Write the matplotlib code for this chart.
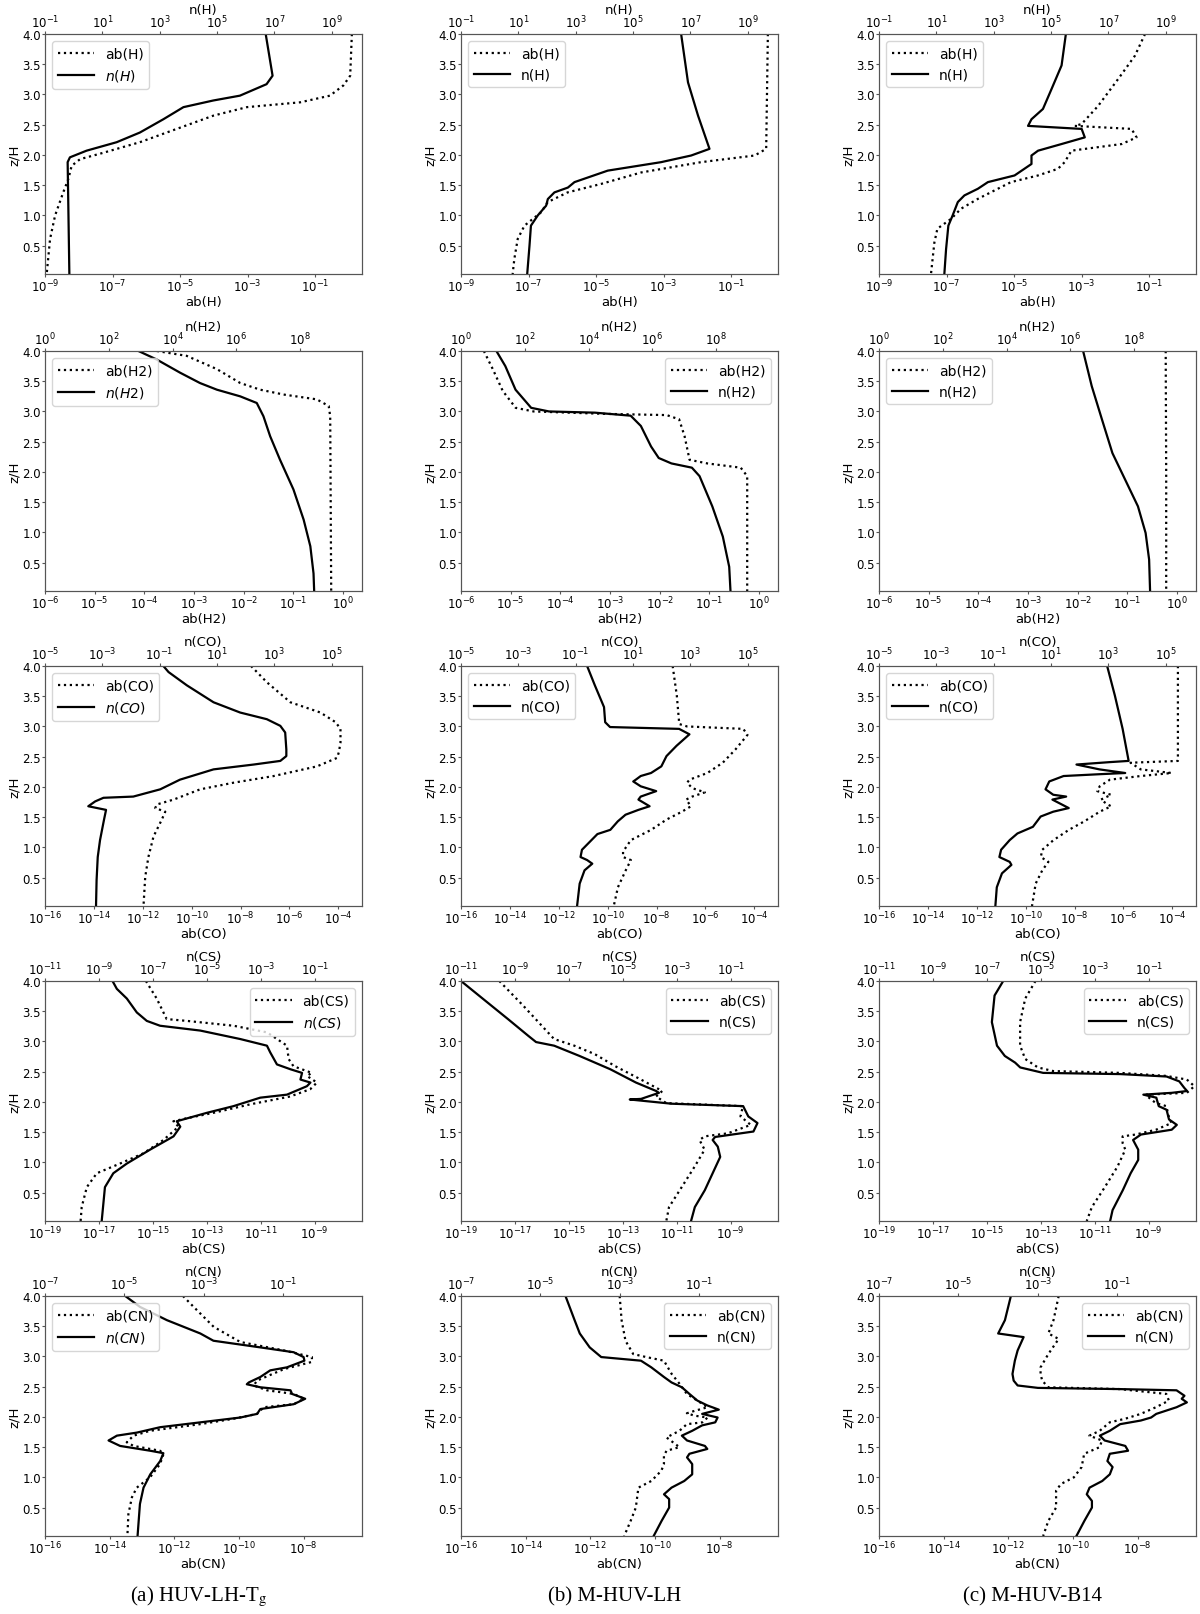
import matplotlib
matplotlib.use("Agg")

import numpy as np
import matplotlib.pyplot as plt
from matplotlib.ticker import FixedLocator, LogFormatterSciNotation, NullLocator

# ── Data: z/H heights and log10 values ────────────────────────────────────────
# suffix _a = HUV-LH-Tg, _b = M-HUV-LH, _c = M-HUV-B14

# H
z_ab_H_a = [4.0, 3.31, 3.15, 2.98, 2.87, 2.79, 2.65, 2.43, 2.21, 2.02, 1.93, 1.82, 1.60, 1.38, 1.0, 0.61, 0.03]
ab_H_a = [0.09, 0.04, -0.16, -0.56, -1.44, -3.02, -4.01, -5.1, -6.19, -7.37, -7.96, -8.21, -8.31, -8.46, -8.70, -8.85, -8.95]
z_n_H_a = [4.0, 3.31, 3.17, 2.98, 2.90, 2.79, 2.59, 2.37, 2.21, 2.07, 1.96, 1.88, 1.27, 0.03]
n_H_a = [6.70, 6.94, 6.73, 5.80, 4.87, 3.83, 3.13, 2.31, 1.50, 0.45, -0.13, -0.21, -0.19, -0.15]

z_ab_H_b = [4.0, 2.10, 1.99, 1.88, 1.71, 1.52, 1.38, 1.22, 1.05, 0.83, 0.61, 0.28, 0.03]
ab_H_b = [0.09, 0.04, -0.30, -1.89, -3.66, -4.85, -5.84, -6.43, -6.63, -7.12, -7.32, -7.42, -7.47]
z_n_H_b = [4.0, 3.2, 2.65, 2.10, 1.99, 1.88, 1.74, 1.55, 1.46, 1.38, 1.27, 1.16, 1.0, 0.83, 0.50, 0.03]
n_H_b = [6.68, 6.92, 7.27, 7.67, 7.03, 5.98, 4.12, 2.96, 2.73, 2.26, 2.03, 1.97, 1.68, 1.44, 1.39, 1.31]

z_ab_H_c = [4.0, 3.64, 3.26, 2.81, 2.51, 2.48, 2.43, 2.29, 2.18, 2.07, 1.88, 1.77, 1.66, 1.55, 1.44, 1.27, 1.11, 0.94, 0.78, 0.55, 0.03]
ab_H_c = [-1.12, -1.42, -1.91, -2.51, -3.00, -3.20, -1.52, -1.37, -1.81, -3.30, -3.50, -3.70, -4.29, -5.09, -5.48, -6.08, -6.57, -6.87, -7.27, -7.36, -7.46]
z_n_H_c = [4.0, 3.48, 3.09, 2.76, 2.59, 2.48, 2.43, 2.29, 2.18, 2.07, 1.99, 1.85, 1.66, 1.55, 1.44, 1.33, 1.22, 1.0, 0.83, 0.44, 0.03]
n_H_c = [5.52, 5.37, 5.02, 4.72, 4.32, 4.20, 6.07, 6.18, 5.37, 4.55, 4.32, 4.32, 3.73, 2.80, 2.45, 1.98, 1.75, 1.57, 1.42, 1.34, 1.28]

# H2
z_ab_H2_a = [4.0, 3.92, 3.70, 3.47, 3.36, 3.28, 3.20, 3.09, 2.92, 0.03]
ab_H2_a = [-3.75, -3.15, -2.54, -2.07, -1.67, -1.20, -0.53, -0.29, -0.26, -0.24]
z_n_H2_a = [4.0, 3.86, 3.64, 3.47, 3.36, 3.25, 3.14, 2.92, 2.59, 2.20, 1.71, 1.21, 0.77, 0.32, 0.03]
n_H2_a = [2.93, 3.50, 4.24, 4.86, 5.39, 6.12, 6.64, 6.85, 7.06, 7.37, 7.79, 8.11, 8.32, 8.42, 8.44]

z_ab_H2_b = [4.0, 3.70, 3.34, 3.06, 3.0, 2.96, 2.94, 2.87, 2.59, 2.20, 2.14, 2.07, 1.93, 0.03]
ab_H2_b = [-5.54, -5.36, -5.16, -4.90, -4.54, -3.10, -1.86, -1.61, -1.50, -1.40, -1.04, -0.37, -0.24, -0.24]
z_n_H2_b = [4.0, 3.75, 3.36, 3.06, 3.0, 2.98, 2.93, 2.76, 2.42, 2.23, 2.14, 2.07, 1.93, 1.43, 0.93, 0.43, 0.03]
n_H2_b = [1.11, 1.39, 1.71, 2.20, 2.76, 4.20, 5.32, 5.64, 5.96, 6.20, 6.60, 7.24, 7.48, 7.88, 8.21, 8.41, 8.45]

z_ab_H2_c = [4.0, 2.0, 0.03]
ab_H2_c = [-0.23, -0.22, -0.22]
z_n_H2_c = [4.0, 3.42, 2.87, 2.31, 1.87, 1.43, 0.99, 0.55, 0.03]
n_H2_c = [6.40, 6.67, 6.99, 7.32, 7.72, 8.12, 8.36, 8.47, 8.50]

# CO
z_ab_CO_a = [4.0, 3.73, 3.40, 3.23, 3.07, 2.96, 2.73, 2.57, 2.48, 2.34, 2.18, 2.07, 1.96, 1.79, 1.71, 1.65, 1.59, 1.46, 1.18, 0.84, 0.51, 0.03]
ab_CO_a = [-7.57, -6.92, -5.96, -4.73, -4.11, -3.91, -3.91, -3.98, -4.05, -4.87, -6.64, -8.28, -9.65, -10.74, -11.42, -11.49, -11.08, -11.22, -11.56, -11.77, -11.90, -11.97]
z_n_CO_a = [4.0, 3.9, 3.68, 3.40, 3.23, 3.12, 3.01, 2.9, 2.62, 2.51, 2.43, 2.37, 2.29, 2.12, 1.96, 1.84, 1.82, 1.76, 1.68, 1.62, 1.46, 1.12, 0.84, 0.46, 0.03]
n_CO_a = [-0.87, -0.69, -0.05, 0.88, 1.81, 2.74, 3.21, 3.38, 3.42, 3.42, 3.21, 2.28, 0.88, -0.29, -0.98, -1.92, -2.96, -3.25, -3.49, -2.87, -2.94, -3.08, -3.16, -3.20, -3.22]

z_ab_CO_b = [4.0, 3.51, 3.04, 3.0, 2.96, 2.86, 2.62, 2.40, 2.23, 2.12, 2.07, 1.98, 1.91, 1.84, 1.79, 1.68, 1.59, 1.46, 1.29, 1.12, 0.93, 0.84, 0.79, 0.62, 0.34, 0.03]
ab_CO_b = [-7.34, -7.17, -7.07, -6.75, -4.45, -4.28, -4.77, -5.29, -5.92, -6.65, -6.75, -6.54, -6.02, -6.54, -6.79, -6.59, -6.96, -7.59, -8.22, -9.05, -9.37, -9.37, -9.05, -9.26, -9.58, -9.75]
z_n_CO_b = [4.0, 3.68, 3.32, 3.07, 2.99, 2.96, 2.87, 2.68, 2.51, 2.34, 2.23, 2.18, 2.12, 2.09, 2.01, 1.93, 1.84, 1.79, 1.68, 1.62, 1.54, 1.43, 1.29, 1.22, 1.09, 0.96, 0.84, 0.79, 0.73, 0.62, 0.40, 0.03]
n_CO_b = [-0.60, -0.33, -0.01, 0.03, 0.20, 2.61, 2.97, 2.52, 2.17, 1.99, 1.63, 1.27, 1.10, 1.01, 1.27, 1.81, 1.27, 1.19, 1.58, 1.19, 0.74, 0.47, 0.21, -0.24, -0.51, -0.78, -0.83, -0.60, -0.42, -0.69, -0.86, -0.95]

z_ab_CO_c = [4.0, 2.43, 2.40, 2.29, 2.23, 2.18, 2.12, 2.01, 1.93, 1.87, 1.79, 1.71, 1.68, 1.59, 1.43, 1.29, 1.12, 0.96, 0.84, 0.76, 0.62, 0.40, 0.03]
ab_CO_c = [-3.77, -3.77, -5.71, -5.29, -4.03, -5.29, -6.55, -6.97, -7.07, -6.50, -6.92, -6.65, -6.50, -6.97, -7.60, -8.23, -8.86, -9.32, -9.38, -9.07, -9.32, -9.59, -9.74]
z_n_CO_c = [4.0, 3.51, 2.96, 2.43, 2.41, 2.37, 2.29, 2.23, 2.21, 2.18, 2.09, 1.96, 1.87, 1.84, 1.79, 1.65, 1.59, 1.51, 1.34, 1.23, 1.12, 0.96, 0.84, 0.76, 0.71, 0.57, 0.34, 0.03]
n_CO_c = [2.96, 3.23, 3.50, 3.71, 3.05, 1.89, 2.69, 3.59, 2.69, 1.44, 0.94, 0.81, 1.08, 1.53, 1.05, 1.62, 1.08, 0.64, 0.37, -0.17, -0.44, -0.74, -0.80, -0.44, -0.38, -0.71, -0.89, -0.94]

# CS
z_ab_CS_a = [4.0, 3.71, 3.37, 3.34, 3.26, 3.15, 2.93, 2.71, 2.59, 2.48, 2.43, 2.32, 2.21, 2.09, 1.96, 1.82, 1.73, 1.68, 1.59, 1.37, 1.15, 0.98, 0.82, 0.59, 0.26, 0.03]
ab_CS_a = [-15.26, -14.86, -14.49, -13.74, -12.01, -10.77, -10.03, -9.97, -9.79, -9.11, -9.29, -8.92, -9.17, -9.91, -11.39, -12.75, -13.74, -14.24, -14.05, -14.61, -15.35, -16.22, -17.08, -17.45, -17.64, -17.68]
z_n_CS_a = [4.0, 3.87, 3.71, 3.48, 3.34, 3.26, 3.18, 3.04, 2.93, 2.82, 2.62, 2.54, 2.48, 2.37, 2.32, 2.26, 2.12, 2.07, 1.93, 1.82, 1.68, 1.59, 1.43, 1.21, 0.98, 0.82, 0.59, 0.03]
n_CS_a = [-8.50, -8.34, -7.97, -7.60, -7.23, -6.74, -5.25, -3.77, -2.78, -2.66, -2.41, -1.91, -1.48, -1.54, -1.17, -1.30, -2.04, -3.03, -4.02, -5.00, -6.12, -5.99, -6.24, -7.11, -7.97, -8.47, -8.78, -8.90]

z_ab_CS_b = [4.0, 3.59, 3.04, 2.93, 2.79, 2.59, 2.37, 2.18, 2.09, 1.98, 1.93, 1.76, 1.62, 1.48, 1.43, 1.37, 1.21, 0.93, 0.59, 0.26, 0.03]
ab_CS_b = [-17.58, -16.69, -15.55, -14.80, -14.04, -13.28, -12.33, -11.54, -11.77, -11.39, -8.55, -8.64, -8.26, -9.11, -9.97, -10.16, -9.97, -10.34, -10.82, -11.29, -11.39]
z_n_CS_b = [4.0, 3.71, 3.37, 3.09, 2.99, 2.93, 2.76, 2.54, 2.32, 2.18, 2.15, 2.05, 2.04, 1.97, 1.93, 1.76, 1.65, 1.51, 1.42, 1.37, 1.26, 1.09, 0.82, 0.54, 0.26, 0.03]
n_CS_b = [-11.0, -10.20, -9.26, -8.50, -8.22, -7.55, -6.61, -5.47, -4.52, -3.77, -3.67, -4.33, -4.75, -3.20, -0.55, -0.36, -0.02, -0.17, -1.59, -1.68, -1.49, -1.40, -1.68, -1.97, -2.34, -2.48]

z_ab_CS_c = [4.0, 3.71, 3.32, 2.93, 2.71, 2.57, 2.51, 2.48, 2.43, 2.37, 2.26, 2.15, 2.12, 2.04, 1.98, 1.93, 1.76, 1.65, 1.54, 1.46, 1.43, 1.32, 1.21, 0.93, 0.59, 0.26, 0.03]
ab_CS_c = [-13.20, -13.58, -13.77, -13.77, -13.58, -13.11, -12.54, -10.06, -8.35, -7.59, -7.31, -7.59, -9.11, -8.92, -8.73, -8.35, -8.26, -8.16, -8.73, -9.49, -9.97, -9.97, -9.87, -10.16, -10.63, -11.11, -11.30]
z_n_CS_c = [4.0, 3.76, 3.32, 2.93, 2.76, 2.65, 2.57, 2.48, 2.46, 2.42, 2.34, 2.23, 2.18, 2.15, 2.12, 2.07, 1.93, 1.87, 1.71, 1.62, 1.54, 1.46, 1.37, 1.21, 1.04, 0.82, 0.54, 0.21, 0.03]
n_CS_c = [-6.40, -6.72, -6.82, -6.63, -6.34, -5.96, -5.77, -4.92, -2.06, -0.35, 0.12, 0.31, 0.41, -0.16, -1.21, -0.73, -0.64, -0.35, -0.26, 0.03, -0.16, -1.30, -1.59, -1.40, -1.40, -1.68, -1.97, -2.35, -2.44]

# CN
z_ab_CN_a = [4.0, 3.82, 3.49, 3.24, 3.10, 2.99, 2.91, 2.79, 2.60, 2.52, 2.44, 2.38, 2.30, 2.21, 2.16, 2.05, 1.97, 1.88, 1.77, 1.69, 1.58, 1.52, 1.44, 1.39, 1.22, 1.0, 0.83, 0.67, 0.39, 0.03]
ab_CN_a = [-11.73, -11.40, -10.78, -9.96, -8.61, -7.74, -7.74, -8.61, -9.44, -9.54, -9.13, -8.30, -7.99, -8.30, -9.23, -9.44, -10.16, -11.20, -12.75, -13.26, -13.47, -13.26, -12.44, -12.33, -12.44, -12.75, -13.16, -13.31, -13.42, -13.45]
z_n_CN_a = [4.0, 3.82, 3.60, 3.38, 3.26, 3.15, 3.07, 2.99, 2.93, 2.82, 2.77, 2.66, 2.57, 2.54, 2.49, 2.44, 2.38, 2.30, 2.21, 2.13, 2.05, 1.99, 1.91, 1.83, 1.74, 1.69, 1.61, 1.52, 1.44, 1.40, 1.27, 1.05, 0.83, 0.56, 0.03]
n_CN_a = [-4.98, -4.61, -3.93, -3.09, -2.76, -1.58, -0.74, -0.49, -0.47, -0.91, -1.33, -1.58, -1.87, -1.92, -1.58, -0.82, -0.78, -0.45, -0.74, -1.58, -1.66, -2.08, -3.09, -4.10, -4.69, -5.19, -5.40, -5.11, -4.35, -4.02, -4.10, -4.35, -4.52, -4.61, -4.67]

z_ab_CN_b = [4.0, 3.60, 3.26, 3.04, 2.99, 2.93, 2.71, 2.55, 2.38, 2.27, 2.16, 2.10, 2.06, 2.02, 1.99, 1.91, 1.88, 1.77, 1.66, 1.50, 1.44, 1.36, 1.22, 1.11, 0.94, 0.83, 0.50, 0.28, 0.03]
ab_CN_b = [-11.09, -11.03, -10.91, -10.67, -10.27, -9.72, -9.48, -9.24, -9.01, -8.69, -8.37, -8.77, -9.01, -8.77, -8.37, -8.53, -9.01, -9.24, -9.64, -9.24, -9.64, -9.72, -9.72, -9.80, -10.11, -10.51, -10.59, -10.75, -10.95]
z_n_CN_b = [4.0, 3.60, 3.38, 3.15, 2.99, 2.93, 2.82, 2.66, 2.57, 2.49, 2.38, 2.27, 2.19, 2.12, 2.05, 1.99, 1.91, 1.86, 1.77, 1.69, 1.61, 1.52, 1.47, 1.39, 1.33, 1.22, 1.05, 0.94, 0.83, 0.72, 0.64, 0.50, 0.28, 0.03]
n_CN_b = [-4.37, -4.14, -4.01, -3.76, -3.47, -2.47, -2.21, -1.89, -1.70, -1.44, -1.25, -1.05, -0.80, -0.51, -0.93, -0.54, -0.60, -0.93, -1.18, -1.44, -1.31, -0.86, -0.80, -1.25, -1.31, -1.18, -1.18, -1.38, -1.70, -1.89, -1.76, -1.76, -1.95, -2.15]

z_ab_CN_c = [4.0, 3.60, 3.38, 3.29, 3.04, 2.82, 2.71, 2.60, 2.49, 2.46, 2.38, 2.27, 2.16, 2.05, 1.97, 1.91, 1.77, 1.69, 1.61, 1.50, 1.39, 1.17, 1.0, 0.89, 0.78, 0.50, 0.28, 0.03]
ab_CN_c = [-10.44, -10.60, -10.76, -10.44, -10.76, -11.0, -11.0, -10.95, -10.76, -8.54, -7.11, -7.03, -7.43, -7.90, -8.38, -8.86, -9.17, -9.49, -9.10, -9.17, -9.65, -9.73, -9.97, -10.37, -10.52, -10.52, -10.76, -10.92]
z_n_CN_c = [4.0, 3.60, 3.38, 3.32, 3.10, 2.93, 2.71, 2.60, 2.52, 2.48, 2.46, 2.44, 2.35, 2.30, 2.24, 2.16, 2.05, 1.99, 1.94, 1.88, 1.77, 1.69, 1.61, 1.52, 1.44, 1.39, 1.27, 1.17, 1.05, 0.94, 0.83, 0.72, 0.61, 0.50, 0.28, 0.03]
n_CN_c = [-3.68, -3.83, -4.0, -3.36, -3.51, -3.58, -3.64, -3.61, -3.51, -3.0, -0.93, 0.49, 0.69, 0.62, 0.75, 0.49, -0.02, -0.15, -0.41, -0.93, -1.19, -1.44, -1.32, -0.80, -0.73, -1.19, -1.25, -1.12, -1.19, -1.38, -1.70, -1.77, -1.64, -1.64, -1.83, -2.03]

SPECIES = ["H", "H2", "CO", "CS", "CN"]
MODELS = ["a", "b", "c"]
CAPTIONS = ["(a) HUV-LH-T$_\\mathrm{g}$", "(b) M-HUV-LH", "(c) M-HUV-B14"]

# axis ranges in log10: (bottom ab axis, top n axis, bottom tick step)
XLIM = {
    "H":  ((-9, 0.39), (-1, 10.06), 2),
    "H2": ((-6, 0.38), (0, 9.94), 1),
    "CO": ((-16, -3.03), (-5, 6.06), 2),
    "CS": ((-19, -7.25), (-11, 0.74), 2),
    "CN": ((-16, -6.19), (-7, 0.98), 2),
}

LEGEND_LOC = {
    "H":  ["upper left", "upper left", "upper left"],
    "H2": ["upper left", "upper right", "upper left"],
    "CO": ["upper left", "upper left", "upper left"],
    "CS": ["upper right", "upper right", "upper right"],
    "CN": ["upper left", "upper right", "upper right"],
}

# ── Layout (pixels of the 1200x1615 canvas) ───────────────────────────────────
FIG_W, FIG_H = 1200, 1615
COL_LEFT = [45, 461, 879]
ROW_TOP = [35, 352, 667, 982, 1297]
AX_W, AX_H = 317, 240
SPINE = "#555555"


def log_ticks(lo, hi, step):
    return 10.0 ** np.arange(int(lo), np.floor(hi) + 1, step)


def style_axis(axis, lo, hi, step):
    axis.set_major_locator(FixedLocator(log_ticks(lo, hi, step)))
    axis.set_major_formatter(LogFormatterSciNotation())
    axis.set_minor_locator(NullLocator())


def draw_panel(fig, row, col, sp):
    g = globals()
    m = MODELS[col]
    z_ab, ab = g[f"z_ab_{sp}_{m}"], g[f"ab_{sp}_{m}"]
    z_n, n = g[f"z_n_{sp}_{m}"], g[f"n_{sp}_{m}"]
    (ab_lo, ab_hi), (n_lo, n_hi), step = XLIM[sp]

    rect = [COL_LEFT[col] / FIG_W, 1 - (ROW_TOP[row] + AX_H) / FIG_H, AX_W / FIG_W, AX_H / FIG_H]
    ax = fig.add_axes(rect)
    ax.set_xscale("log")
    l1, = ax.plot(10.0 ** np.array(ab), z_ab, color="black", linestyle=":", linewidth=1.6,
                  label=f"ab({sp})")
    ax.set_xlim(10.0 ** ab_lo, 10.0 ** ab_hi)
    ax.set_ylim(0.03, 4.0)
    yt = [0.5, 1.0, 1.5, 2.0, 2.5, 3.0, 3.5, 4.0]
    ax.set_yticks(yt)
    ax.set_yticklabels([f"{v:.1f}" for v in yt])
    style_axis(ax.xaxis, ab_lo, ab_hi, step)
    ax.set_xlabel(f"ab({sp})", fontsize=9.5)
    ax.xaxis.set_label_coords(0.5, -21 / AX_H)
    ax.set_ylabel("z/H", fontsize=9.5)
    ax.yaxis.set_label_coords(-24 / AX_W, 0.5)

    ax2 = ax.twiny()
    ax2.set_xscale("log")
    n_label = f"$n({sp})$" if col == 0 else f"n({sp})"
    l2, = ax2.plot(10.0 ** np.array(n), z_n, color="black", linewidth=1.6, label=n_label)
    ax2.set_xlim(10.0 ** n_lo, 10.0 ** n_hi)
    style_axis(ax2.xaxis, n_lo, n_hi, 2)
    ax2.set_xlabel(f"n({sp})", fontsize=9.5)
    ax2.xaxis.set_label_coords(0.5, 1 + 21 / AX_H)

    for a in (ax, ax2):
        a.tick_params(labelsize=8.5, length=2, width=0.8, color=SPINE, pad=1)
        for s in a.spines.values():
            s.set_color(SPINE)

    ax2.legend([l1, l2], [l1.get_label(), l2.get_label()], loc=LEGEND_LOC[sp][col],
               fontsize=10, handlelength=2.6)


def main():
    fig = plt.figure(figsize=(FIG_W / 100, FIG_H / 100), dpi=100)
    for row, sp in enumerate(SPECIES):
        for col in range(3):
            draw_panel(fig, row, col, sp)

    for col, cap in enumerate(CAPTIONS):
        xc = (COL_LEFT[col] + AX_W / 2 - 5) / FIG_W
        fig.text(xc, 1 - 1597 / FIG_H, cap, ha="center", va="center", fontsize=15,
                 family="Liberation Serif", math_fontfamily="stix")

    fig.savefig("out.png", dpi=100)
    plt.close(fig)


if __name__ == "__main__":
    main()
